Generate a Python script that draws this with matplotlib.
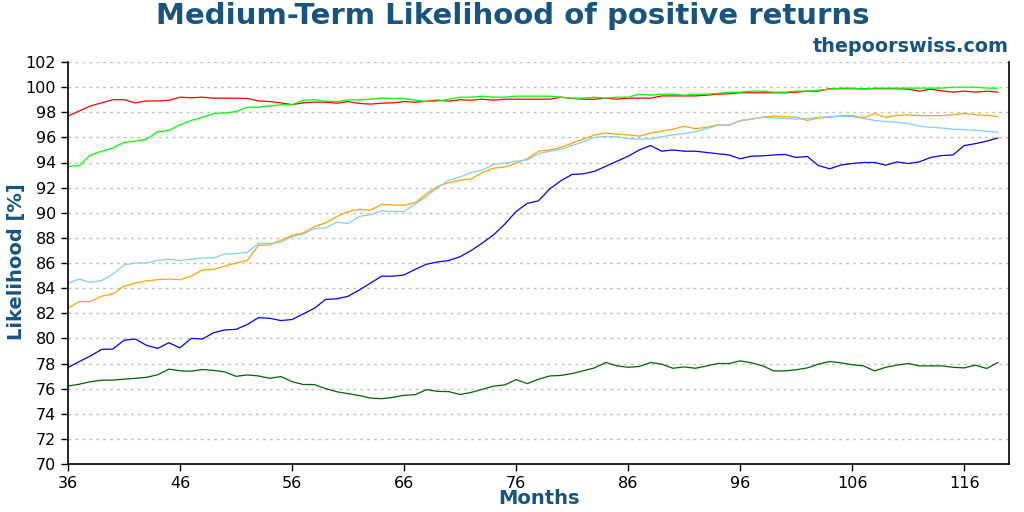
import matplotlib
matplotlib.use("Agg")
import matplotlib.pyplot as plt
import numpy as np

months = list(range(36, 120))

red = [97.7, 98.1, 98.5, 98.75, 99.0, 99.0, 98.75, 98.9, 98.9, 98.95,
       99.2, 99.15, 99.2, 99.12, 99.12, 99.12, 99.1, 98.9, 98.85, 98.75,
       98.6, 98.75, 98.8, 98.8, 98.72, 98.85, 98.7, 98.65, 98.72, 98.75,
       98.85, 98.8, 98.88, 98.96, 98.88, 99.0, 98.96, 99.04, 98.96, 99.04,
       99.04, 99.04, 99.04, 99.04, 99.2, 99.1, 99.04, 99.04, 99.12, 99.04,
       99.12, 99.12, 99.12, 99.3, 99.3, 99.3, 99.3, 99.36, 99.44, 99.47,
       99.55, 99.55, 99.55, 99.55, 99.55, 99.6, 99.68, 99.68, 99.87, 99.87,
       99.87, 99.87, 99.87, 99.87, 99.87, 99.84, 99.68, 99.84, 99.7, 99.6,
       99.68, 99.6, 99.68, 99.6]

lime = [93.7, 93.75, 94.6, 94.9, 95.15, 95.6, 95.7, 95.85, 96.45, 96.55,
        97.0, 97.35, 97.6, 97.9, 97.95, 98.05, 98.4, 98.4, 98.5, 98.6,
        98.6, 98.95, 99.0, 98.88, 98.85, 98.98, 98.98, 99.04, 99.12, 99.1,
        99.1, 98.96, 98.85, 98.88, 99.04, 99.2, 99.2, 99.28, 99.2, 99.2,
        99.28, 99.28, 99.28, 99.28, 99.2, 99.12, 99.12, 99.2, 99.12, 99.2,
        99.2, 99.44, 99.36, 99.44, 99.44, 99.36, 99.44, 99.44, 99.5, 99.6,
        99.6, 99.68, 99.68, 99.6, 99.6, 99.68, 99.68, 99.76, 99.84, 99.92,
        99.92, 99.84, 99.92, 99.92, 99.92, 99.92, 99.92, 99.92, 99.92, 100.0,
        100.0, 100.0, 99.92, 99.92]

orange = [82.4, 82.93, 82.93, 83.35, 83.55, 84.15, 84.4, 84.58, 84.67, 84.72,
          84.67, 84.95, 85.45, 85.5, 85.75, 86.0, 86.2, 87.4, 87.44, 87.8,
          88.2, 88.4, 88.9, 89.2, 89.7, 90.1, 90.27, 90.2, 90.67, 90.62,
          90.6, 90.8, 91.5, 92.1, 92.4, 92.6, 92.7, 93.2, 93.55, 93.65,
          93.95, 94.3, 94.9, 95.0, 95.2, 95.55, 95.87, 96.19, 96.35, 96.25,
          96.2, 96.1, 96.35, 96.5, 96.65, 96.88, 96.7, 96.8, 97.0, 96.95,
          97.35, 97.45, 97.6, 97.7, 97.65, 97.6, 97.35, 97.55, 97.6, 97.73,
          97.73, 97.55, 97.9, 97.6, 97.75, 97.8, 97.73, 97.73, 97.73, 97.8,
          97.92, 97.8, 97.75, 97.65]

skyblue = [84.4, 84.72, 84.45, 84.6, 85.1, 85.85, 86.0, 86.0, 86.2, 86.3,
           86.2, 86.3, 86.4, 86.4, 86.72, 86.75, 86.85, 87.55, 87.55, 87.65,
           88.1, 88.3, 88.75, 88.8, 89.25, 89.15, 89.7, 89.85, 90.15, 90.1,
           90.1, 90.7, 91.3, 92.0, 92.6, 92.85, 93.2, 93.4, 93.85, 93.95,
           94.1, 94.2, 94.7, 94.9, 95.05, 95.35, 95.65, 96.0, 96.08, 96.05,
           95.9, 95.87, 95.87, 96.05, 96.2, 96.3, 96.45, 96.7, 96.95, 97.0,
           97.3, 97.45, 97.6, 97.55, 97.5, 97.45, 97.5, 97.6, 97.65, 97.68,
           97.65, 97.52, 97.35, 97.25, 97.2, 97.1, 96.9, 96.8, 96.75, 96.65,
           96.62, 96.56, 96.5, 96.4]

blue = [77.68, 78.15, 78.6, 79.12, 79.15, 79.85, 79.95, 79.45, 79.2, 79.65,
        79.25, 80.0, 79.95, 80.45, 80.67, 80.72, 81.1, 81.65, 81.6, 81.42,
        81.5, 81.95, 82.4, 83.1, 83.15, 83.35, 83.85, 84.4, 84.95, 84.95,
        85.05, 85.5, 85.9, 86.08, 86.2, 86.5, 87.0, 87.6, 88.25, 89.1,
        90.1, 90.75, 90.95, 91.9, 92.55, 93.05, 93.1, 93.3, 93.7, 94.1,
        94.5, 95.0, 95.35, 94.9, 95.0, 94.9, 94.9, 94.8, 94.7, 94.6,
        94.3, 94.5, 94.53, 94.6, 94.64, 94.4, 94.48, 93.75, 93.5, 93.8,
        93.92, 94.0, 94.0, 93.79, 94.05, 93.92, 94.05, 94.4, 94.55, 94.6,
        95.35, 95.5, 95.7, 95.95]

darkgreen = [76.21, 76.35, 76.55, 76.67, 76.68, 76.75, 76.82, 76.9, 77.1, 77.55,
             77.42, 77.39, 77.52, 77.45, 77.33, 76.98, 77.09, 77.01, 76.82, 76.96,
             76.55, 76.33, 76.32, 76.0, 75.75, 75.6, 75.45, 75.25, 75.2, 75.3,
             75.47, 75.52, 75.92, 75.78, 75.76, 75.53, 75.7, 75.95, 76.2, 76.3,
             76.72, 76.4, 76.75, 77.01, 77.05, 77.2, 77.42, 77.65, 78.08, 77.81,
             77.7, 77.76, 78.08, 77.95, 77.62, 77.73, 77.62, 77.8, 78.0, 78.0,
             78.21, 78.05, 77.82, 77.41, 77.41, 77.5, 77.65, 77.95, 78.16, 78.05,
             77.9, 77.81, 77.41, 77.7, 77.87, 78.0, 77.81, 77.81, 77.81, 77.7,
             77.65, 77.87, 77.6, 78.08]

x_ticks = list(range(36, 120, 10))
y_ticks = list(range(70, 103, 2))

title_color = "#18547e"

fig = plt.figure(figsize=(10.24, 5.12), dpi=100)
ax = fig.add_axes([68/1024, 1 - 464/512, (1009 - 68)/1024, (464 - 62)/512])

series = [(red, "#ff0000"), (lime, "#00ff00"), (orange, "#ffa500"),
          (skyblue, "#87ceeb"), (blue, "#0000ff"), (darkgreen, "#006400")]
for vals, col in series:
    ax.plot(months, vals, color=col, linewidth=0.9)

ax.set_xlim(36, 120)
ax.set_ylim(70, 102)
ax.set_xticks(x_ticks)
ax.set_yticks(y_ticks)
ax.tick_params(axis="both", labelsize=11.5, length=5, width=1, direction="out", colors="black")
ax.yaxis.grid(True, color="#c0c0c0", linestyle=(0, (2, 3)), linewidth=1)
ax.set_axisbelow(True)
ax.spines["top"].set_visible(False)
for s in ("left", "right", "bottom"):
    ax.spines[s].set_linewidth(1.2)

fig.text(538.5/1024, 1 - 499/512, "Months", ha="center", va="center",
         fontsize=14, fontweight="bold", color=title_color)
fig.text(17/1024, 1 - 262/512, "Likelihood [%]", ha="center", va="center", rotation=90,
         fontsize=14, fontweight="bold", color=title_color)

fig.text(513/1024, 1 - 16/512, "Medium-Term Likelihood of positive returns", ha="center", va="center",
         fontsize=21, fontweight="bold", color=title_color)
fig.text(1009/1024, 1 - 46/512, "thepoorswiss.com", ha="right", va="center",
         fontsize=13.8, fontweight="bold", color=title_color)

fig.savefig("out.png", dpi=100)
